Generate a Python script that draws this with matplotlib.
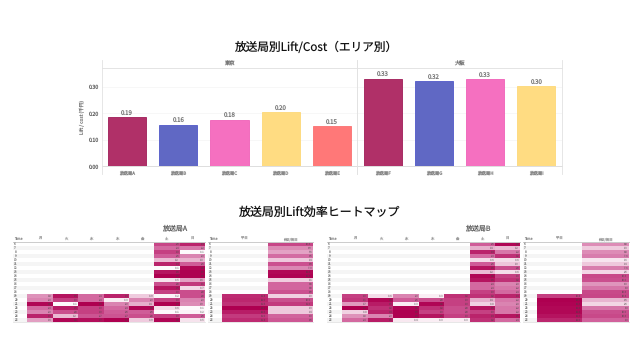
import numpy as np
import matplotlib
matplotlib.use("Agg")
import matplotlib.pyplot as plt
from matplotlib.colors import LinearSegmentedColormap

plt.rcParams['font.family'] = ['Noto Sans CJK JP', 'DejaVu Sans']
plt.rcParams['text.hinting'] = 'no_hinting'

# Bar data
tokyo_names = ['放送局A', '放送局B', '放送局C', '放送局D', '放送局E']
tokyo_vals = [0.187, 0.158, 0.177, 0.204, 0.153]
osaka_names = ['放送局F', '放送局G', '放送局H', '放送局I']
osaka_vals = [0.331, 0.323, 0.330, 0.304]
tokyo_labels = ['0.19', '0.16', '0.18', '0.20', '0.15']
osaka_labels = ['0.33', '0.32', '0.33', '0.30']
bar_colors = ['#b03068', '#6068c4', '#f570c0', '#ffdc82', '#ff7878']
edge_colors = ['#a01c58', '#5058c8', '#f060b8', '#fdd878', '#fb7070']

# Heatmap data, rows are hours 6-25
hours = list(range(6, 26))
day_cols = ['月', '火', '水', '木', '金', '土', '日']
sum_cols = ['平日', '休日/祝日']

a_weekday = [[1.8, 3.6, 2.4, 3.4, 0.9],
             [2.0, 3.0, 2.4, 0.3, 2.0],
             [3.8, 0.1, 3.9, 2.0, 1.4],
             [2.4, 3.5, 3.0, 2.4, 3.8],
             [2.0, 2.8, 3.0, 2.6, 2.6],
             [3.4, 1.2, 2.7, 2.7, 2.8],
             [1.6, 3.8, 3.7, 3.9, 0.9]]
a_sat = [2.9, 2.4, 3.0, 2.6, 1.2, 3.4, 0.1, 3.6, 3.9, 0.5, 2.8, 3.6, 3.0, 0.2, 3.0, 3.9, 0.6, 0.1, 3.0, 3.8]
a_sun = [3.4, 2.2, 0.1, 2.0, 1.3, 2.6, 3.8, 3.9, 3.9, 1.6, 3.1, 0.7, 2.8, 2.8, 2.0, 1.9, 0.1, 0.2, 2.6, 0.5]
a_weekday_avg = [11.8, 12.0, 11.5, 14.0, 12.5, 11.0, 11.8]
a_holiday_avg = [10.4, 6.9, 5.6, 8.5, 3.4, 9.9, 7.0, 13.6, 13.8, 3.1, 8.8, 8.8, 9.9, 3.0, 10.0, 11.0, 3.3, 3.4, 9.0, 9.6]

b_weekday = [[3.0, 0.6, 2.0, 0.3, 3.2],
             [3.1, 3.8, 2.6, 2.8, 3.0],
             [1.7, 3.5, 0.3, 3.8, 3.0],
             [3.9, 3.2, 3.8, 3.2, 2.8],
             [0.8, 3.4, 3.9, 3.0, 2.8],
             [1.8, 2.0, 3.9, 3.6, 3.0],
             [2.4, 3.5, 0.4, 0.3, 0.3]]
b_sat = [2.6, 1.4, 3.4, 2.4, 0.6, 2.6, 3.6, 1.2, 3.8, 3.6, 2.4, 2.4, 3.0, 3.2, 1.4, 0.8, 3.6, 3.0, 3.4, 3.2]
b_sun = [3.8, 1.2, 2.2, 3.2, 0.6, 1.0, 2.8, 0.6, 3.0, 3.2, 2.0, 2.2, 2.4, 3.4, 2.2, 2.0, 2.2, 2.2, 3.6, 2.4]
b_weekday_avg = [10.8, 14.0, 13.8, 13.6, 13.6, 13.0, 12.0]
b_holiday_avg = [6.8, 3.3, 6.8, 7.6, 1.6, 3.4, 7.6, 2.5, 10.3, 10.0, 6.3, 8.0, 10.3, 10.4, 4.6, 2.6, 8.0, 10.0, 10.3, 9.0]

cmap = LinearSegmentedColormap.from_list('lift', ['#ffffff', '#e8b4cf', '#cf5c98', '#ae0050'])
W, H = 640, 360


def px_axes(x0, y0, x1, y1):
    ax = fig.add_axes([x0 / W, 1 - y1 / H, (x1 - x0) / W, (y1 - y0) / H])
    return ax


def bar_panel(x0, x1, names, vals, labels, title, show_y):
    ax = px_axes(x0, 68.3, x1, 166.3)
    ax.bar(range(len(vals)), vals, width=0.745, color=bar_colors[:len(vals)],
           edgecolor=edge_colors[:len(vals)], linewidth=0.6, zorder=3)
    for i, v in enumerate(vals):
        ax.text(i, v + 0.004, labels[i], ha='center', va='bottom', fontsize=4.4, color='#777777')
    ax.set_xlim(-0.5, len(vals) - 0.5)
    ax.set_ylim(0, 0.371)
    ax.set_yticks([0, 0.1, 0.2, 0.3])
    ax.grid(axis='y', color='#f4f4f4', linewidth=0.5, zorder=0)
    ax.set_xticks(range(len(vals)))
    ax.set_xticklabels(names, fontsize=3.2, color='#888888')
    ax.tick_params(axis='x', length=0, pad=3)
    if show_y:
        ax.set_yticklabels(['0.00', '0.10', '0.20', '0.30'], fontsize=3.8, color='#666666')
        ax.set_ylabel('Lift / cost (千円)', fontsize=3.4, color='#777777', labelpad=2.5)
    ax.tick_params(axis='y', length=0, pad=2, labelleft=show_y)
    for s in ax.spines.values():
        s.set_visible(False)
    ax.spines['top'].set_visible(True)
    ax.spines['bottom'].set_visible(True)
    ax.spines['top'].set_color('#e4e4e4')
    ax.spines['bottom'].set_color('#dddddd')
    ax.spines['top'].set_linewidth(0.7)
    ax.spines['bottom'].set_linewidth(0.7)
    fig.text((x0 + x1) / 2 / W, 1 - 64 / H, title, ha='center', va='center', fontsize=3.8, color='#777777')
    for x in (x0, x1):
        fig.add_artist(plt.Line2D([x / W, x / W], [1 - 60 / H, 1 - 174 / H], color='#e2e2e2', linewidth=0.6))


def heat_table(x_edges, y0, headers, values, vmax):
    # values: one list per column, NaN where the cell is empty
    ax = px_axes(x_edges[0], y0, x_edges[-1], 321.7)
    n = len(hours)
    for r in range(n):
        if r % 2 == 1:
            ax.axhspan(r, r + 1, color='#f5f5f5', linewidth=0, zorder=0)
    data = np.array(values, dtype=float).T
    ax.pcolormesh(x_edges[1:], np.arange(n + 1), np.ma.masked_invalid(data), cmap=cmap,
                  vmin=0, vmax=vmax, zorder=1)
    for r in range(n):
        ax.text(x_edges[0] + 1, r + 0.5, str(hours[r]), fontsize=2.3, color='#888888', va='center')
        for c in range(data.shape[1]):
            if not np.isnan(data[r, c]):
                ax.text(x_edges[c + 2] - 1.5, r + 0.5, f'{data[r, c]:.1f}', fontsize=1.9,
                        color='#444444', alpha=0.5, ha='right', va='center', zorder=2)
    ax.set_xlim(x_edges[0], x_edges[-1])
    ax.set_ylim(n, 0)
    ax.axis('off')
    ax.plot([x_edges[0], x_edges[-1]], [0, 0], color='#cccccc', linewidth=0.7, clip_on=False)
    ax.plot([x_edges[0], x_edges[-1]], [n, n], color='#dddddd', linewidth=0.5, clip_on=False)
    ax.text(x_edges[0] + 1, -0.7, 'Time', fontsize=2.6, color='#888888', va='center')
    for c, name in enumerate(headers):
        ax.text((x_edges[c + 1] + x_edges[c + 2]) / 2, -0.7, name, fontsize=2.4, color='#999999',
                ha='center', va='center')


def station_tables(day_edges, sum_edges, weekday, sat, sun, weekday_avg, holiday_avg):
    empty = [np.nan] * 13
    cols = [empty + [row[c] for row in weekday] for c in range(5)] + [sat, sun]
    heat_table(day_edges, 241.7, day_cols, cols, 3.9)
    heat_table(sum_edges, 241.7, sum_cols, [empty + weekday_avg, holiday_avg], 14)


fig = plt.figure(figsize=(6.4, 3.6), dpi=100, facecolor='white')

fig.text(317 / W, 1 - 47 / H, '放送局別Lift/Cost（エリア別）', ha='center', va='center',
         fontsize=8.4, color='#111111')
bar_panel(101.7, 357.3, tokyo_names, tokyo_vals, tokyo_labels, '東京', True)
bar_panel(357.3, 562, osaka_names, osaka_vals, osaka_labels, '大阪', False)

fig.text(320 / W, 1 - 212 / H, '放送局別Lift効率ヒートマップ', ha='center', va='center',
         fontsize=8.6, color='#111111')
fig.text(175 / W, 1 - 228 / H, '放送局A', ha='center', va='center', fontsize=5, color='#666666')
fig.text(478 / W, 1 - 228 / H, '放送局B', ha='center', va='center', fontsize=5, color='#666666')

station_tables([13, 26.7, 52.7, 78, 103.7, 129.3, 154.3, 180, 205], [208, 221.7, 267.5, 313],
               a_weekday, a_sat, a_sun, a_weekday_avg, a_holiday_avg)
station_tables([327, 341.7, 367.7, 393, 419, 444, 469.5, 495, 520], [523, 536.7, 582, 628.7],
               b_weekday, b_sat, b_sun, b_weekday_avg, b_holiday_avg)

fig.savefig('out.png', dpi=100)
